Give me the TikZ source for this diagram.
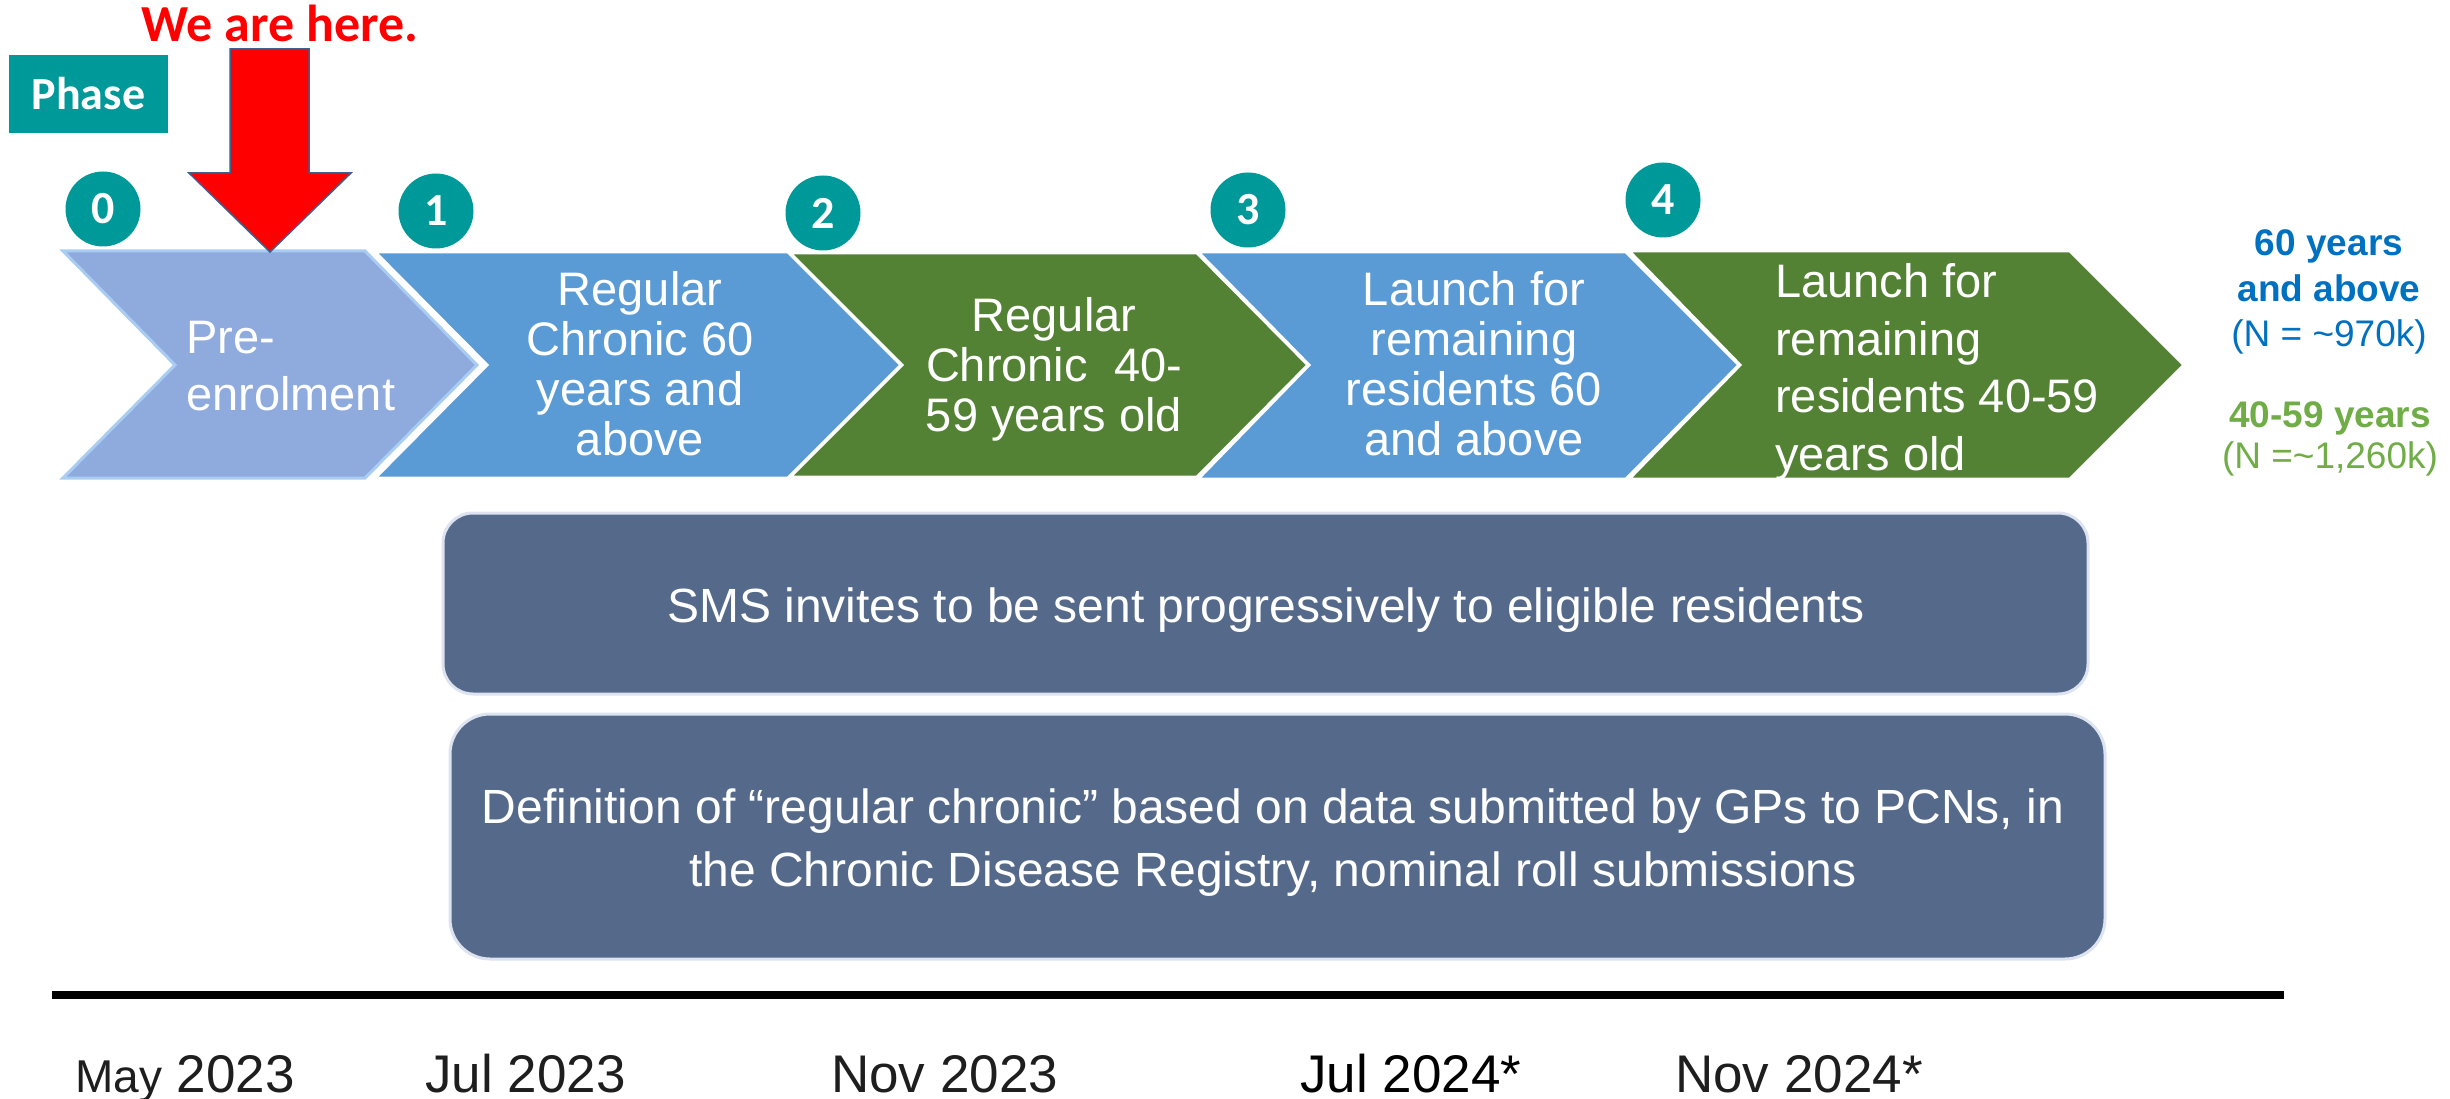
\documentclass[tikz,border=0pt]{standalone}
\usepackage{fontspec}
\setmainfont{Liberation Sans}
\newfontfamily\calib{Carlito}
\definecolor{teal0}{HTML}{009999}
\definecolor{czero}{HTML}{8FAADC}
\definecolor{czeroedge}{HTML}{A9CDF2}
\definecolor{cblue}{HTML}{5B9BD5}
\definecolor{cgreen}{HTML}{548235}
\definecolor{cbox}{HTML}{556A8B}
\definecolor{cboxedge}{HTML}{DDE3F0}
\definecolor{legblue}{HTML}{0070C0}
\definecolor{leggreen}{HTML}{70AD47}
\definecolor{arrowedge}{HTML}{3F5F8F}
\definecolor{datecol}{HTML}{1E1E1E}
\begin{document}
\begin{tikzpicture}[x=1pt,y=-1pt,
  chzero/.style={fill=czero, draw=czeroedge, line width=3pt, line join=miter},
  chblue/.style={fill=cblue, draw=white, line width=3pt, line join=miter},
  chgreen/.style={fill=cgreen, draw=white, line width=3pt, line join=miter},
  chtext/.style={text=white, inner sep=0pt, font=\fontsize{47}{50}\selectfont},
  phasecirc/.style={circle, fill=teal0, minimum size=75pt, inner sep=0pt, text=white, font=\calib\bfseries\fontsize{46}{46}\selectfont},
  infobox/.style={fill=cbox, draw=cboxedge, line width=3pt, inner sep=0pt},
  boxtext/.style={text=white, inner sep=0pt, align=center},
  datetext/.style={text=datecol, inner sep=0pt, anchor=base west, font=\fontsize{53}{53}\selectfont},
  legtext/.style={inner sep=0pt, align=center, anchor=base}
]
\useasboundingbox (0,0) rectangle (2450,1099);
\fill[white] (0,0) rectangle (2450,1099);

% Phase label
\node[fill=teal0, minimum width=159pt, minimum height=78pt, inner sep=0pt, text=white,
      font=\calib\bfseries\fontsize{46}{46}\selectfont] (phase) at (88.5,94) {Phase};

% We are here
\node[text=red, inner sep=0pt, anchor=base, font=\calib\bfseries\fontsize{52}{52}\selectfont]
  (here) at (280,42) {We are here.};

% Chevrons
\filldraw[chzero] (63,251) -- (365,251) -- (477,365) -- (365,478) -- (63,478) -- (175,365) -- cycle;
\filldraw[chblue] (375,252) -- (788,252) -- (901,365) -- (788,478) -- (375,478) -- (487,365) -- cycle;
\filldraw[chgreen] (790,253) -- (1197,253) -- (1308,365) -- (1197,477) -- (790,477) -- (902,365) -- cycle;
\filldraw[chblue] (1198,252) -- (1626,252) -- (1739,365) -- (1626,479) -- (1198,479) -- (1309,365) -- cycle;
\filldraw[chgreen] (1629,251) -- (2070,251) -- (2184,365) -- (2070,479) -- (1629,479) -- (1740,365) -- cycle;

% Chevron texts (base anchor = baseline of last line)
\node[chtext, align=left, anchor=base west, font=\fontsize{47}{57}\selectfont] (t0) at (186,410) {Pre-\\enrolment};
\node[chtext, align=center, anchor=base] (t1) at (640,455) {Regular\\Chronic 60\\years and\\above};
\node[chtext, align=center, anchor=base] (t2) at (1054,431) {Regular\\Chronic\ \ 40-\\59 years old};
\node[chtext, align=center, anchor=base] (t3) at (1474,455) {Launch for\\remaining\\residents 60\\and above};
\node[chtext, align=left, anchor=base west, font=\fontsize{47}{57.5}\selectfont] (t4) at (1775,470) {Launch for\\remaining\\residents 40-59\\years old};

% Phase circles
\node[phasecirc] (c0) at (103,209) {0};
\node[phasecirc] (c1) at (436,211) {1};
\node[phasecirc] (c2) at (823,213) {2};
\node[phasecirc] (c3) at (1248,210) {3};
\node[phasecirc] (c4) at (1663,200) {4};

% Red arrow
\filldraw[fill=red, draw=arrowedge, line width=1.5pt, line join=miter]
  (230,49) -- (309,49) -- (309,173) -- (351,173) -- (270,252) -- (189,173) -- (230,173) -- cycle;

% Legend
\node[legtext, text=legblue, font=\fontsize{37}{46}\selectfont] (leg1) at (2329,347)
  {\bfseries 60 years\\\bfseries and above\\(N = \textasciitilde970k)};
\node[legtext, text=leggreen, font=\fontsize{37}{41}\selectfont] (leg2) at (2330,468)
  {\bfseries 40-59 years\\(N =\textasciitilde1,260k)};

% Info boxes
\node[infobox, minimum width=1645pt, minimum height=181pt, rounded corners=30pt] (smsbox) at (1265.5,603.5) {};
\node[boxtext, anchor=base, font=\fontsize{48}{48}\selectfont] (smstext) at (1266,622)
  {SMS invites to be sent progressively to eligible residents};
\node[infobox, minimum width=1655pt, minimum height=245pt, rounded corners=40pt] (defbox) at (1277.5,836.5) {};
\node[boxtext, anchor=base, font=\fontsize{48}{63}\selectfont] (deftext) at (1273,886)
  {Definition of “regular chronic” based on data submitted by GPs to PCNs, in\\the Chronic Disease Registry, nominal roll submissions};

% Timeline
\coordinate (tlstart) at (52,995);
\coordinate (tlend) at (2284,995);
\draw[line width=8pt, black] (tlstart) -- (tlend);

% Dates
\node[datetext] (d0) at (75,1092) {{\fontsize{46}{46}\selectfont May} 2023};
\node[datetext] (d1) at (425,1092) {Jul 2023};
\node[datetext] (d2) at (831,1092) {Nov 2023};
\node[datetext, text=black] (d3) at (1300,1092) {Jul 2024*};
\node[datetext] (d4) at (1675,1092) {Nov 2024*};
\end{tikzpicture}
\end{document}
